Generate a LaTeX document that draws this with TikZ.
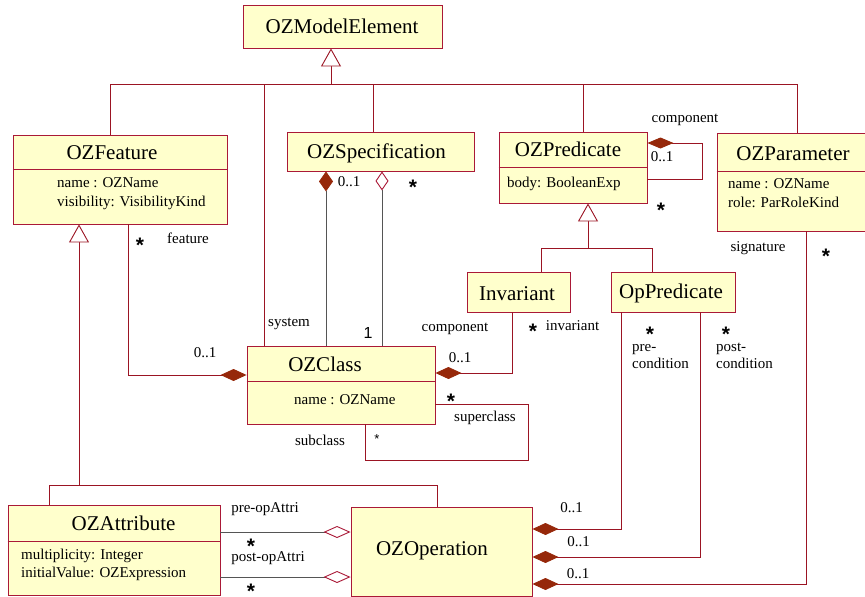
\documentclass[tikz,border=0pt]{standalone}
\usepackage{fontspec}
\setmainfont{Liberation Serif}
\newfontfamily\starfont{Liberation Sans}
\usetikzlibrary{arrows.meta}
\definecolor{boxred}{RGB}{170,25,55}
\definecolor{linered}{RGB}{155,20,35}
\definecolor{boxfill}{RGB}{255,255,204}
\definecolor{diafill}{RGB}{150,40,10}
\definecolor{assocgray}{RGB}{85,85,85}

\tikzset{
  classbox/.style={draw=boxred, fill=boxfill, line width=0.9pt, inner sep=0pt},
  divider/.style={draw=boxred, line width=0.9pt},
  title/.style={font=\fontsize{21}{24}\selectfont, inner sep=0pt, text height=14pt, text depth=0pt},
  attrtext/.style={font=\fontsize{15}{18}\selectfont, inner sep=0pt, anchor=west, text height=10pt, text depth=3pt},
  lbl/.style={font=\fontsize{15}{18}\selectfont, inner sep=0pt, text height=10pt, text depth=3pt},
  % the asterisk sits high in its box, so the node is lowered a little
  mult/.style={font=\starfont\bfseries\fontsize{21}{24}\selectfont, inner sep=0pt, yshift=-4pt},
  link/.style={draw=linered, line width=0.9pt},
  gline/.style={draw=assocgray, line width=0.9pt},
  gen/.style={link, -{Triangle[open, length=18pt, width=20pt, color=linered, fill=white]}},
  comp/.style={-{Diamond[length=26pt, width=12pt, color=diafill, fill=diafill]}},
  vcomp/.style={-{Diamond[length=20pt, width=14pt, color=diafill, fill=diafill]}},
  agg/.style={-{Diamond[open, length=27pt, width=12pt, color=boxred, fill=white]}},
  vagg/.style={-{Diamond[open, length=19pt, width=13pt, color=boxred, fill=white]}},
}

\begin{document}
\begin{tikzpicture}[x=1pt, y=-1pt]
\useasboundingbox (0,0) rectangle (865,597);

% ---------- classes ----------
\node[classbox, minimum width=199pt, minimum height=43pt] (model) at (342.5,26.5) {};
\node[title] (modelT) at (342,27) {OZModelElement};

\node[classbox, minimum width=214pt, minimum height=89pt] (feature) at (120,179.5) {};
\draw[divider] ([yshift=-35pt]feature.north west) -- ([yshift=-35pt]feature.north east);
\node[title] (featureT) at (112,152) {OZFeature};
\node[attrtext] (featureA1) at (57,184) {name : OZName};
\node[attrtext] (featureA2) at (57,203) {visibility: VisibilityKind};

\node[classbox, minimum width=187pt, minimum height=39pt] (spec) at (380.5,151.5) {};
\node[title] (specT) at (376.5,151) {OZSpecification};

\node[classbox, minimum width=148pt, minimum height=71pt] (pred) at (573,167.5) {};
\draw[divider] ([yshift=-36pt]pred.north west) -- ([yshift=-36pt]pred.north east);
\node[title] (predT) at (568,149) {OZPredicate};
\node[attrtext] (predA1) at (507,184) {body: BooleanExp};

\node[classbox, minimum width=149pt, minimum height=98pt] (param) at (791.5,182) {};
\draw[divider] ([yshift=-39pt]param.north west) -- ([yshift=-39pt]param.north east);
\node[title] (paramT) at (793,153) {OZParameter};
\node[attrtext] (paramA1) at (728,185) {name : OZName};
\node[attrtext] (paramA2) at (728,204) {role: ParRoleKind};

\node[classbox, minimum width=103pt, minimum height=40pt] (inv) at (518.5,292) {};
\node[title] (invT) at (517,293) {Invariant};

\node[classbox, minimum width=124pt, minimum height=40pt] (oppred) at (673,292) {};
\node[title] (oppredT) at (671,291) {OpPredicate};

\node[classbox, minimum width=188pt, minimum height=78pt] (cls) at (341,385) {};
\draw[divider] ([yshift=-36pt]cls.north west) -- ([yshift=-36pt]cls.north east);
\node[title] (clsT) at (325,364) {OZClass};
\node[attrtext] (clsA1) at (294,401) {name : OZName};

\node[classbox, minimum width=212pt, minimum height=90pt] (attr) at (114,550) {};
\draw[divider] ([yshift=-37pt]attr.north west) -- ([yshift=-37pt]attr.north east);
\node[title] (attrT) at (123.5,523) {OZAttribute};
\node[attrtext] (attrA1) at (21,556) {multiplicity: Integer};
\node[attrtext] (attrA2) at (21,574) {initialValue: OZExpression};

\node[classbox, minimum width=181pt, minimum height=89pt] (op) at (441.5,551.5) {};
\node[title] (opT) at (432,548) {OZOperation};

% ---------- generalisations ----------
\coordinate (g0) at (331,84);
\coordinate (gF) at (110,84);
\coordinate (gSys) at (264,84);
\coordinate (gS) at (373,84);
\coordinate (gP) at (583,84);
\coordinate (gR) at (797,84);
\draw[gen] (g0) -- (g0 |- model.south);
\draw[link] (feature.north -| gF) -- (gF) -- (gR) -- (param.north -| gR);
\draw[link] (gSys) -- (cls.north -| gSys);
\draw[link] (gS) -- (spec.north -| gS);
\draw[link] (gP) -- (pred.north -| gP);

\coordinate (h0) at (79,485);
\coordinate (hA) at (49,485);
\coordinate (hO) at (437,485);
\draw[gen] (h0) -- (h0 |- feature.south);
\draw[link] (attr.north -| hA) -- (hA) -- (hO) -- (op.north -| hO);

\coordinate (p0) at (588,248);
\coordinate (pI) at (541,248);
\coordinate (pO) at (652,248);
\draw[gen] (p0) -- (p0 |- pred.south);
\draw[link] (inv.north -| pI) -- (pI) -- (pO) -- (oppred.north -| pO);

% ---------- associations ----------
\coordinate (fc) at (128,375);
\draw[link, comp] (feature.south -| fc) -- (fc) -- (fc -| cls.west);

\coordinate (sa) at (326,260);
\coordinate (sb) at (382,260);
\draw[gline, vcomp] (cls.north -| sa) -- (spec.south -| sa);
\draw[gline, vagg] (cls.north -| sb) -- (spec.south -| sb);

\coordinate (ic) at (512,373);
\draw[link, comp] (inv.south -| ic) -- (ic) -- (ic -| cls.east);

\coordinate (ca) at (528,404);
\coordinate (cb) at (365,460);
\draw[link] (cls.east |- ca) -- (ca) -- (ca |- cb) -- (cb) -- (cb |- cls.south);

\coordinate (pa) at (702,143);
\coordinate (pb) at (702,179);
\draw[link, -{Diamond[length=26pt, width=11pt, color=diafill, fill=diafill]}] (pred.east |- pb) -- (pb) -- (pa) -- (pa -| pred.east);

\coordinate (ao1) at (300,532);
\coordinate (ao2) at (300,577);
\draw[gline, agg] (attr.east |- ao1) -- (op.west |- ao1);
\draw[gline, agg] (attr.east |- ao2) -- (op.west |- ao2);

\coordinate (o1) at (621,529);
\coordinate (o2) at (700,557);
\coordinate (o3) at (806,584);
\draw[link, comp] (oppred.south -| o1) -- (o1) -- (o1 -| op.east);
\draw[link, comp] (oppred.south -| o2) -- (o2) -- (o2 -| op.east);
\draw[link, comp] (param.south -| o3) -- (o3) -- (o3 -| op.east);

% ---------- role names and multiplicities ----------
\node[lbl] (l1) at (685,119) {component};
\node[lbl] (l2) at (662,158) {0..1};
\node[mult] (m1) at (661,206) {*};
\node[lbl] (l3) at (758,248) {signature};
\node[mult] (m2) at (826,252) {*};

\node[mult] (m3) at (140,241) {*};
\node[lbl] (l4) at (188,240) {feature};
\node[lbl] (l5) at (205,354) {0..1};
\node[lbl] (l6) at (289,323) {system};

\node[lbl] (l7) at (349,183) {0..1};
\node[mult] (m4) at (413,183) {*};
\node[font=\starfont\fontsize{16}{18}\selectfont, inner sep=0pt] (n1) at (368,333) {1};

\node[lbl] (l8) at (455,328) {component};
\node[mult] (m5) at (533,327) {*};
\node[lbl] (l9) at (572.5,327) {invariant};
\node[lbl] (l10) at (460,359) {0..1};

\node[mult] (m6) at (451,397) {*};
\node[lbl] (l11) at (485,418) {superclass};
\node[lbl] (l12) at (320,442) {subclass};
\node[font=\starfont\fontsize{13}{15}\selectfont, inner sep=0pt, yshift=-2pt] (m7) at (377,437) {*};

\node[mult] (m8) at (650,330) {*};
\node[attrtext] (l13) at (632,348) {pre-};
\node[attrtext] (l14) at (632,365) {condition};
\node[mult] (m9) at (726,330) {*};
\node[attrtext] (l15) at (716,348) {post-};
\node[attrtext] (l16) at (716,365) {condition};

\node[lbl] (l17) at (265,509) {pre-opAttri};
\node[mult] (m10) at (251,542) {*};
\node[lbl] (l18) at (268,558) {post-opAttri};
\node[mult] (m11) at (251,587) {*};

\node[lbl] (l19) at (571.5,509) {0..1};
\node[lbl] (l20) at (578.5,543) {0..1};
\node[lbl] (l21) at (578,575) {0..1};
\end{tikzpicture}
\end{document}
